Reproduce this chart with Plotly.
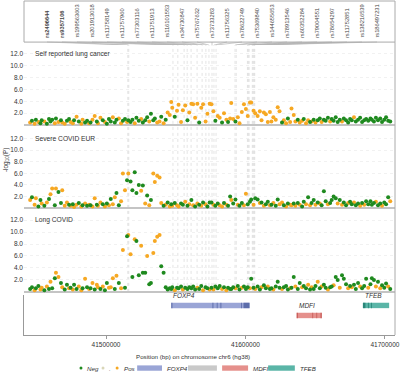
import numpy as np
import plotly.graph_objects as go

# ---------------- data ----------------
pos_kb = [
    41445.6, 41446.9, 41448.8, 41449.7, 41451.5, 41453.0, 41453.9, 41455.8, 41457.6, 41459.1,
    41460.2, 41461.4, 41463.3, 41464.1, 41465.9, 41467.7, 41468.6, 41470.4, 41472.0, 41473.5,
    41474.6, 41476.2, 41477.1, 41478.9, 41480.5, 41482.3, 41483.2, 41485.0, 41486.4, 41487.9,
    41488.9, 41490.3, 41491.9, 41493.4, 41494.2, 41496.0, 41497.7, 41499.2, 41500.6, 41502.1,
    41503.4, 41504.9, 41506.3, 41507.5, 41509.2, 41510.8, 41512.1, 41513.6, 41515.1, 41516.0,
    41517.6, 41518.9, 41520.6, 41521.8, 41523.5, 41525.2, 41526.4, 41528.1, 41529.5, 41531.0,
    41532.2, 41533.9, 41535.0, 41536.7, 41538.4, 41539.6, 41541.3, 41542.8, 41544.2, 41545.7,
    41546.8, 41547.5, 41549.3, 41550.9, 41552.0, 41553.8, 41555.1, 41556.8, 41558.4, 41559.7,
    41561.2, 41562.5, 41563.9, 41565.5, 41566.8, 41568.3, 41569.6, 41571.4, 41572.7, 41574.3,
    41575.6, 41577.0, 41578.4, 41580.1, 41581.5, 41583.2, 41584.6, 41586.3, 41587.5, 41589.0,
    41589.8, 41591.2, 41592.8, 41594.5, 41595.7, 41597.4, 41598.9, 41600.3, 41601.6, 41603.2,
    41604.1, 41605.8, 41607.0, 41608.7, 41610.3, 41611.5, 41613.2, 41614.6, 41616.0, 41617.5,
    41618.6, 41620.0, 41621.7, 41623.1, 41624.4, 41626.2, 41627.5, 41629.1, 41630.4, 41632.0,
    41633.0, 41634.6, 41635.8, 41637.5, 41638.9, 41640.6, 41641.8, 41643.4, 41644.9, 41646.3,
    41647.4, 41648.9, 41650.2, 41651.8, 41653.3, 41654.6, 41656.2, 41657.5, 41659.1, 41660.7,
    41661.8, 41663.2, 41664.7, 41666.1, 41667.6, 41669.2, 41670.5, 41672.1, 41673.6, 41675.0,
    41676.2, 41677.8, 41679.1, 41680.7, 41682.2, 41683.6, 41685.1, 41686.5, 41688.0, 41689.6,
    41690.6, 41692.1, 41693.5, 41695.0, 41696.6, 41697.9, 41699.5, 41700.8, 41702.3, 41703.8,
]

lung_p = [
    0.4, 0.7, 0.2, 0.9, 0.5, 0.3, 0.8, 0.6, 0.2, 1.0,
    0.6, 0.9, 0.3, 1.1, 0.5, 0.8, 0.4, 0.2, 0.7, 1.0,
    0.5, 0.3, 0.8, 1.4, 0.6, 0.2, 0.9, 0.4, 0.7, 0.3,
    0.4, 0.9, 1.5, 0.6, 0.3, 1.2, 0.8, 0.5, 0.2, 1.0,
    0.6, 1.3, 0.4, 0.9, 1.1, 0.3, 0.7, 1.0, 0.5, 0.8,
    0.5, 0.9, 0.3, 1.2, 0.7, 1.0, 0.4, 0.8, 1.3, 0.6,
    1.9, 0.8, 1.1, 0.4, 0.6, 1.4, 0.3, 0.9, 2.1, 1.7,
    3.9, 2.9, 1.4, 2.4, 3.4, 0.5, 2.5, 3.3, 0.8, 2.1,
    3.6, 3.5, 1.2, 3.6, 0.4, 2.9, 3.5, 0.6, 1.9, 3.6,
    3.5, 2.3, 0.7, 1.5, 1.2, 0.4, 2.0, 0.9, 0.5, 1.1,
    3.7, 1.0, 0.6, 1.3, 0.3, 2.2, 3.5, 2.7, 1.5, 3.8,
    3.8, 2.4, 2.0, 1.5, 2.3, 0.8, 2.1, 1.8, 0.5, 2.2,
    0.6, 1.3, 0.9, 3.0, 2.3, 0.4, 0.8, 0.3, 1.1, 0.5,
    2.8, 1.7, 0.6, 0.9, 0.4, 0.7, 1.0, 0.3, 0.8, 0.5,
    0.6, 0.9, 0.4, 0.8, 1.1, 0.5, 0.9, 0.7, 1.2, 0.6,
    1.0, 0.7, 1.3, 0.5, 0.9, 0.6, 1.1, 0.8, 0.4, 1.0,
    0.8, 1.3, 0.6, 0.9, 1.2, 0.5, 0.8, 1.0, 0.7, 1.1,
    0.9, 0.6, 1.2, 0.8, 1.1, 0.5, 0.9, 1.3, 0.7, 0.6,
]
lung_dir = ("PNPNPNNPNN NNPNPNPPNN PPNPNPPNNP NPPNPPNPNN NPNNPPNNPN NNPNNPNNNP "
            "NNNPPNPNPP PPNPPPPPNP PPPPNPPPPP PPNPPNPPNP PPNPPPPPPP PPPPPPPPPP "
            "PPPPPNPPNP PPPNPPNPPN PNPNNPNNNP NNNNNPNNNN NPNNNNNNNN NNNNNNNNNN")

covid_p = [
    1.4, 1.9, 0.6, 1.7, 0.3, 1.4, 0.8, 0.4, 1.0, 1.6,
    2.4, 3.4, 0.5, 3.4, 2.8, 0.9, 3.1, 0.4, 1.0, 0.6,
    0.4, 0.7, 0.2, 0.6, 0.9, 0.3, 0.5, 0.8, 0.4, 0.6,
    0.5, 0.3, 1.7, 0.6, 0.4, 1.0, 0.7, 0.3, 0.8, 0.5,
    1.6, 0.7, 1.9, 2.6, 0.5, 1.2, 6.0, 3.1, 4.8, 6.0,
    4.6, 3.1, 6.2, 2.6, 4.0, 3.0, 3.9, 0.8, 2.2, 0.5,
    1.4, 6.0, 4.5, 5.6, 5.3, 0.9, 0.4, 0.6, 1.0, 0.3,
    0.7, 0.4, 0.9, 0.5, 0.3, 0.8, 0.6, 1.1, 0.4, 0.7,
    1.4, 0.5, 0.3, 0.8, 0.6, 0.4, 1.0, 0.7, 0.3, 1.0,
    1.0, 0.6, 0.4, 0.8, 0.5, 0.3, 0.9, 0.6, 0.4, 2.0,
    1.4, 0.8, 1.5, 0.6, 0.4, 0.9, 0.5, 2.5, 0.7, 1.1,
    1.5, 0.6, 1.7, 1.5, 0.9, 1.0, 0.4, 0.7, 1.1, 0.5,
    0.6, 0.9, 0.4, 1.5, 0.7, 1.0, 0.5, 0.3, 0.8, 0.6,
    0.5, 0.8, 0.4, 0.9, 0.6, 0.3, 1.1, 0.7, 1.9, 0.5,
    0.9, 1.4, 0.6, 1.0, 0.8, 0.5, 2.9, 1.2, 0.7, 0.9,
    1.4, 2.0, 1.7, 0.8, 1.4, 0.6, 1.0, 0.5, 0.9, 1.1,
    0.7, 1.0, 0.5, 0.8, 0.4, 0.9, 0.6, 1.2, 0.7, 1.2,
    0.6, 0.9, 1.1, 0.5, 0.8, 0.4, 1.0, 0.7, 1.9, 1.2,
]
covid_dir = ("PNPPNNPNPN PPNPNNPPPN PNPPNPNPNP NPPNPPNPNP NPPNNPPPNP NNNNNPNPNP "
             "NPPPPPNPNP NPNPPNNPNP NPNPNPNPNN NPNNPPNPNN PNNPNNPPNN NPNNPNPNNP "
             "NPNNPPNPNP PNPNPNNPNP NNPNPNNNPN NNNPNPNNPN NPNNPNPNNN NNPNNPNNNP")

long_p = [
    0.5, 0.8, 0.3, 0.6, 1.0, 0.4, 0.7, 0.3, 0.9, 0.5,
    1.7, 0.6, 2.3, 3.2, 2.5, 1.5, 0.8, 0.4, 1.2, 0.6,
    0.7, 0.4, 1.2, 0.5, 0.9, 0.3, 0.6, 2.2, 0.8, 0.5,
    0.6, 1.5, 0.4, 1.2, 0.8, 0.5, 0.9, 0.3, 1.5, 0.7,
    0.8, 2.3, 0.5, 2.7, 1.5, 0.6, 7.0, 0.7, 9.3, 9.5,
    6.3, 2.5, 8.8, 8.5, 2.8, 7.7, 3.2, 3.2, 6.0, 1.3,
    1.5, 6.5, 8.5, 9.2, 9.5, 4.3, 3.2, 0.8, 0.4, 0.6,
    0.5, 0.8, 0.3, 0.7, 0.6, 0.9, 0.4, 0.7, 0.5, 0.8,
    0.6, 0.9, 0.4, 0.7, 0.5, 1.0, 0.3, 0.8, 0.6, 0.4,
    0.7, 0.4, 0.9, 0.6, 1.0, 0.5, 0.8, 0.3, 0.7, 0.5,
    0.5, 0.8, 0.6, 1.0, 0.4, 0.7, 0.9, 0.5, 0.8, 0.6,
    2.2, 0.7, 0.5, 0.9, 0.4, 0.8, 1.1, 0.6, 0.9, 0.5,
    0.6, 0.4, 0.9, 1.7, 0.7, 0.5, 0.8, 1.0, 0.4, 0.6,
    0.7, 2.5, 0.9, 0.5, 1.5, 0.8, 1.0, 0.6, 1.2, 0.4,
    0.8, 0.5, 1.0, 1.7, 0.6, 0.9, 1.2, 0.7, 0.4, 0.8,
    0.9, 1.1, 2.5, 2.0, 0.7, 2.8, 2.2, 1.3, 0.6, 1.0,
    0.8, 1.2, 0.5, 1.5, 0.9, 0.6, 1.0, 2.2, 0.7, 1.3,
    2.3, 2.0, 0.9, 1.7, 0.6, 1.1, 0.7, 1.4, 0.9, 0.5,
]
long_dir = ("NNPNNPPNPN PNNPPNPNNP NPNNPPNPNP NPNPPNPNNP PPNPNPPNNP PNPNNPNNPN "
            "NPPPPNNNNN NNPNNNPNNN NNNPNNPNNP NPNNNPNPNN NNPNNPNNNP NNPNNPNNPN "
            "NPNNNPNNNP NNPNNPNNPN PNNPNPNNPN NPNNPNNNPN PNNNPNNNPN NNPNPNNNPN")

panel_titles = ["Self reported lung cancer", "Severe COVID EUR", "Long COVID"]

snp_names = ["rs2496644", "rs9357106", "rs199563603", "rs201913018", "rs11758149",
             "rs11757960", "rs77303116", "rs11751913", "rs116101553", "rs34730847",
             "rs75767632", "rs73733283", "rs11756325", "rs78622749", "rs75369840",
             "rs144655653", "rs78913546", "rs60352284", "rs79004551", "rs78654297",
             "rs11752851", "rs138216539", "rs186497231"]
snp_pos_kb = [41515.6, 41516.3, 41548.0, 41551.5, 41556.0, 41558.2, 41561.0, 41565.3,
              41568.9, 41571.6, 41573.8, 41576.0, 41577.4, 41578.9, 41592.5, 41593.4,
              41601.4, 41602.0, 41602.6, 41604.9, 41605.5, 41606.1, 41606.6]
bold_snps = ["rs2496644", "rs9357106"]

gene_names = ["FOXP4", "MDFI", "TFEB"]
gene_start_kb = [41546.8, 41636.7, 41684.2]
gene_end_kb = [41602.9, 41654.7, 41703.0]
gene_row = [1, 2, 1]
gene_exons_kb = [
    [(41546.8, 41547.6), (41576.3, 41577.0), (41579.4, 41580.0), (41582.0, 41582.7),
     (41596.8, 41597.4), (41598.6, 41602.9)],
    [(41636.7, 41637.6), (41647.9, 41648.5), (41650.8, 41651.4), (41653.8, 41654.7)],
    [(41684.2, 41686.0), (41687.8, 41688.4), (41690.0, 41690.6)],
]
gene_colors = ["#9aa5d6", "#e5908c", "#5ab5a7"]
gene_dark = ["#4e5fa0", "#c0504c", "#1d7a6e"]

x_ticks = [41500000, 41600000, 41700000]
y_ticks = [2, 4, 6, 8, 10, 12]

# ---------------- style ----------------
FONT = "Liberation Sans, Arial, sans-serif"
GREEN = "#1f8a1f"
ORANGE = "#f6a823"
PALE = "#d9d6b8"
LINE = "#aaaaaa"
TXT = "#333333"

fig = go.Figure()
x_bp = [p * 1000 for p in pos_kb]
panel_series = [(lung_p, lung_dir), (covid_p, covid_dir), (long_p, long_dir)]
yrefs = ["y", "y2", "y3"]
y_domains = [[0.620, 0.868], [0.371, 0.614], [0.120, 0.371]]

for yref, (vals, dirs) in zip(yrefs, panel_series):
    dirs = dirs.replace(" ", "")
    for code, color in (("P", ORANGE), ("N", GREEN)):
        xs = [x for x, d in zip(x_bp, dirs) if d == code]
        ys = [v for v, d in zip(vals, dirs) if d == code]
        fig.add_trace(go.Scatter(x=xs, y=ys, mode="markers", xaxis="x", yaxis=yref,
                                 marker=dict(size=4, color=color, line=dict(width=0)),
                                 showlegend=False, hoverinfo="skip"))

# fan connectors from labels to SNP positions
label_x = np.linspace(41457.7, 41694.3, len(snp_names)) * 1000
fx, fy = [], []
for lx, sp in zip(label_x, snp_pos_kb):
    fx += [lx, sp * 1000, None]
    fy += [0.07, 0.0, None]
fig.add_trace(go.Scatter(x=fx, y=fy, mode="lines", xaxis="x", yaxis="y5",
                         line=dict(color="#b5b5b5", width=0.7), cliponaxis=False,
                         showlegend=False, hoverinfo="skip"))

shapes = []
annotations = []

# SNP labels
for lx, name in zip(label_x, snp_names):
    txt = f"<b>{name}</b>" if name in bold_snps else name
    annotations.append(dict(x=lx, y=0.115, xref="x", yref="y5", text=txt, textangle=-90,
                            xanchor="center", yanchor="bottom", showarrow=False,
                            font=dict(size=5.7, color="#444444", family=FONT)))

# vertical dotted lines
for sp in snp_pos_kb:
    shapes.append(dict(type="line", xref="x", yref="paper", x0=sp * 1000, x1=sp * 1000,
                       y0=0.129, y1=0.868, line=dict(color="#d2d2d2", width=0.6, dash="dot"),
                       layer="below"))

# label band box and right border
shapes.append(dict(type="rect", xref="paper", yref="paper", x0=0, x1=1, y0=0.877, y1=1.0,
                   line=dict(color=LINE, width=1)))
shapes.append(dict(type="line", xref="paper", yref="paper", x0=1, x1=1, y0=0, y1=0.877,
                   line=dict(color=LINE, width=1)))

# panel titles
for yref, title in zip(yrefs, panel_titles):
    annotations.append(dict(x=0.024, y=12, xref="x domain", yref=yref, text=title,
                            xanchor="left", yanchor="middle", showarrow=False,
                            font=dict(size=6.7, color=TXT, family=FONT)))

# gene track
row_center = {1: 2.95, 2: 1.95}
for name, s, e, r, exons, col, dk in zip(gene_names, gene_start_kb, gene_end_kb, gene_row,
                                          gene_exons_kb, gene_colors, gene_dark):
    c = row_center[r]
    shapes.append(dict(type="rect", xref="x", yref="y4", x0=s * 1000, x1=e * 1000,
                       y0=c - 0.27, y1=c + 0.27, fillcolor=col, line=dict(width=0)))
    for a, b in exons:
        shapes.append(dict(type="rect", xref="x", yref="y4", x0=a * 1000, x1=b * 1000,
                           y0=c - 0.27, y1=c + 0.27, fillcolor=dk, line=dict(width=0),
                           opacity=0.8))
    annotations.append(dict(x=s * 1000, y=c + 0.42, xref="x", yref="y4",
                            text=f"<i>{name}</i>", xanchor="left", yanchor="bottom",
                            showarrow=False, font=dict(size=6.5, color=TXT, family=FONT)))

# y title and x title
annotations.append(dict(x=-0.05, y=0.525, xref="paper", yref="paper",
                        text="-log<sub>10</sub>(P)", textangle=-90, showarrow=False,
                        xanchor="center", yanchor="middle",
                        font=dict(size=6.5, color=TXT, family=FONT)))
annotations.append(dict(x=0.456, y=-0.064, xref="paper", yref="paper",
                        text="Position (bp) on chromosome chr6 (hg38)", showarrow=False,
                        xanchor="center", yanchor="middle",
                        font=dict(size=6.2, color=TXT, family=FONT)))

# manual legend
ly = -0.099
dot_items = [(0.1536, GREEN, "Neg"), (0.213, PALE, "."), (0.251, ORANGE, "Pos")]
for x0, col, lab in dot_items:
    shapes.append(dict(type="circle", xref="paper", yref="paper", x0=x0 - 0.004, x1=x0 + 0.004,
                       y0=ly - 0.0045, y1=ly + 0.0045, fillcolor=col, line=dict(width=0)))
    annotations.append(dict(x=x0 + 0.012, y=ly, xref="paper", yref="paper",
                            text=f"<i>{lab}</i>", xanchor="left", yanchor="middle",
                            showarrow=False, font=dict(size=6.2, color=TXT, family=FONT)))
rect_items = [(0.305, 0.372, gene_colors[0], "FOXP4"), (0.442, 0.520, "#c9c9c9", ""),
              (0.534, 0.604, gene_colors[1], "MDFI"), (0.658, 0.730, gene_colors[2], "TFEB")]
for x0, x1, col, lab in rect_items:
    shapes.append(dict(type="rect", xref="paper", yref="paper", x0=x0, x1=x1,
                       y0=ly - 0.008, y1=ly + 0.008, fillcolor=col, line=dict(width=0)))
    if lab:
        annotations.append(dict(x=x1 + 0.008, y=ly, xref="paper", yref="paper",
                                text=f"<i>{lab}</i>", xanchor="left", yanchor="middle",
                                showarrow=False, font=dict(size=6.2, color=TXT, family=FONT)))

ycommon = dict(range=[-0.5, 13.5], tickvals=y_ticks, ticktext=[f"{v:.1f}" for v in y_ticks],
               tickfont=dict(size=6.5, color=TXT, family=FONT), showgrid=True,
               gridcolor="#f1f1f1", griddash="dot", zeroline=True, zerolinecolor="#c4c4c4",
               zerolinewidth=2, showline=False, ticks="", anchor="x", fixedrange=True)

layout = dict(
    width=400, height=374,
    margin=dict(l=24, r=5, t=1, b=39),
    paper_bgcolor="white", plot_bgcolor="white",
    font=dict(family=FONT, color=TXT),
    xaxis=dict(domain=[0, 1], range=[41441200, 41707200], anchor="y4",
               tickvals=x_ticks, ticktext=[str(v) for v in x_ticks],
               ticks="outside", ticklen=3, tickcolor="#999", showline=True, linecolor="#999",
               linewidth=1, showgrid=False, zeroline=False,
               tickfont=dict(size=6.5, color=TXT, family=FONT)),
    yaxis4=dict(domain=[0, 0.120], range=[0, 4], anchor="x", showticklabels=False,
                showgrid=False, zeroline=False, showline=True, linecolor="#999", ticks=""),
    yaxis5=dict(domain=[0.868, 1.0], range=[0, 1], anchor="x", visible=False),
    shapes=shapes, annotations=annotations, showlegend=False,
)
for i, dom in enumerate(y_domains):
    key = "yaxis" if i == 0 else f"yaxis{i+1}"
    layout[key] = dict(ycommon, domain=dom)

fig.update_layout(**layout)
fig.write_html(
    "out.html",
    config={"displayModeBar": False},
    post_script="document.body.style.margin='0px';document.body.style.overflow='hidden';",
)
